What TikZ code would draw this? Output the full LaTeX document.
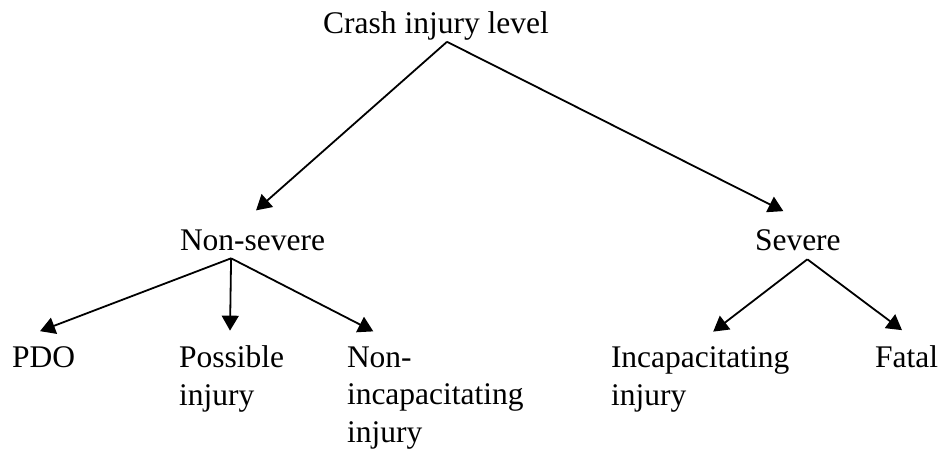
\documentclass[tikz,border=0pt]{standalone}
\usepackage{fontspec}
\setmainfont{Liberation Serif}
\usepackage{tikz}
\usetikzlibrary{arrows.meta}
\tikzset{lvl/.style={inner sep=0pt,outer sep=0pt,font=\fontsize{15.75pt}{18.75pt}\selectfont}}
\tikzset{leaf/.style={lvl,align=left,anchor=base west}}
\tikzset{line/.style={black,-{Triangle[length=7.5pt,width=8.5pt]},line width=0.9pt}}

\begin{document}
\begin{tikzpicture}[x=0.5pt,y=-0.5pt]
  \useasboundingbox (0,0) rectangle (943,451);
  % Levels
  \node[lvl,anchor=base] (crash) at (436,33) {Crash injury level};
  \node[lvl,anchor=base west] (nonsev) at (180,250) {Non-severe};
  \node[lvl,anchor=base west] (sev) at (755,250) {Severe};

  % Outcomes (placed at the baseline of their last line)
  \node[leaf] (pdo) at (12,367) {PDO};
  \node[leaf] (possible) at (179,405) {Possible\\injury};
  \node[leaf] (nonincap) at (347,442) {Non-\\incapacitating\\injury};
  \node[leaf] (incap) at (611,405) {Incapacitating\\injury};
  \node[leaf] (fatal) at (875,367) {Fatal};

  % Arrows
  \draw[line] ([shift={(11,2)}]crash.south) -- ([shift={(3.5,-19)}]nonsev.north);
  \draw[line] ([shift={(11,2)}]crash.south) -- ([shift={(-14.5,-18)}]sev.north);
  \draw[line] ([shift={(-21.5,8)}]nonsev.south) -- ([shift={(-3.5,-15)}]pdo.north);
  \draw[line] ([shift={(-21.5,8)}]nonsev.south) -- ([shift={(-1.5,-15)}]possible.north);
  \draw[line] ([shift={(-21.5,8)}]nonsev.south) -- ([shift={(-62,-15)}]nonincap.north);
  \draw[line] ([shift={(9.5,9)}]sev.south) -- ([shift={(13,-15)}]incap.north);
  \draw[line] ([shift={(9.5,9)}]sev.south) -- ([shift={(-4.5,-15)}]fatal.north);
\end{tikzpicture}
\end{document}
